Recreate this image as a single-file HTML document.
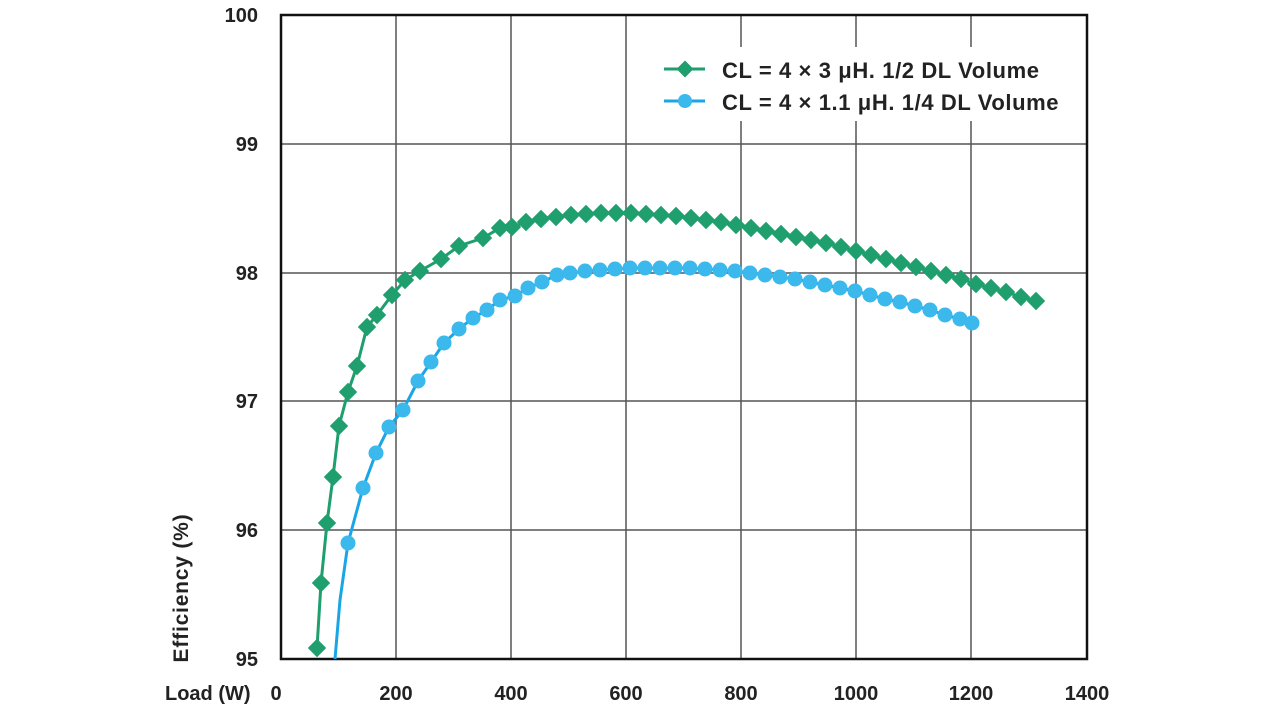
<!DOCTYPE html><html><head><style>body{margin:0;background:#fff}svg{display:block}text{font-family:"Liberation Sans",sans-serif;font-weight:bold;fill:#222}</style></head><body>
<svg width="1280" height="721" viewBox="0 0 1280 721">
<g stroke="#555" stroke-width="1.5">
<line x1="396" y1="15" x2="396" y2="659"/><line x1="511" y1="15" x2="511" y2="659"/><line x1="626" y1="15" x2="626" y2="659"/><line x1="741" y1="15" x2="741" y2="659"/><line x1="856" y1="15" x2="856" y2="659"/><line x1="971" y1="15" x2="971" y2="659"/>
<line x1="281" y1="144" x2="1087" y2="144"/><line x1="281" y1="273" x2="1087" y2="273"/><line x1="281" y1="401" x2="1087" y2="401"/><line x1="281" y1="530" x2="1087" y2="530"/>
</g>
<rect x="652" y="47" width="428" height="74" fill="#fff"/>
<rect x="281" y="15" width="806" height="644" fill="none" stroke="#111" stroke-width="2.5"/>
<g id="plot"></g>
<g font-size="20" text-anchor="end">
<text x="258" y="22">100</text><text x="258" y="151">99</text><text x="258" y="280">98</text><text x="258" y="408">97</text><text x="258" y="537">96</text><text x="258" y="666">95</text></g>
<g font-size="20" text-anchor="middle">
<text x="276" y="700">0</text><text x="396" y="700">200</text><text x="511" y="700">400</text><text x="626" y="700">600</text><text x="741" y="700">800</text><text x="856" y="700">1000</text><text x="971" y="700">1200</text><text x="1087" y="700">1400</text></g>
<text x="165" y="700" font-size="20">Load (W)</text>
<text transform="translate(188,588) rotate(-90)" font-size="21" letter-spacing="0.8" text-anchor="middle">Efficiency (%)</text>
<line x1="664" y1="69" x2="705" y2="69" stroke="#1f9e6e" stroke-width="3"/><rect x="679" y="63" width="12" height="12" transform="rotate(45 685 69)" fill="#1f9e6e"/>
<line x1="664" y1="101" x2="705" y2="101" stroke="#1aa6e6" stroke-width="3"/><circle cx="685" cy="101" r="7" fill="#3bb8ec"/>
<text x="722" y="78" font-size="22" letter-spacing="0.6">CL = 4 × 3 μH. 1/2 DL Volume</text>
<text x="722" y="110" font-size="22" letter-spacing="0.6">CL = 4 × 1.1 μH. 1/4 DL Volume</text>
</svg>
<script>
var g=[[317,648],[321,583],[327,523],[333,477],[339,426],[348,392],[357,366],[367,327],[377,315],[392,295],[405,280],[420,271],[441,259],[459,246],[483,238],[500,228],[512,227],[526,222],[541,219],[556,217],[571,215],[586,214],[601,213],[616,213],[631,213],[646,214],[661,215],[676,216],[691,218],[706,220],[721,222],[736,225],[751,228],[766,231],[781,234],[796,237],[811,240],[826,243],[841,247],[856,251],[871,255],[886,259],[901,263],[916,267],[931,271],[946,275],[961,279],[976,284],[991,288],[1006,292],[1021,297],[1036,301]];
var b=[[335,659],[340,600],[348,543],[363,488],[376,453],[389,427],[403,410],[418,381],[431,362],[444,343],[459,329],[473,318],[487,310],[500,300],[515,296],[528,288],[542,282],[557,275],[570,273],[585,271],[600,270],[615,269],[630,268],[645,268],[660,268],[675,268],[690,268],[705,269],[720,270],[735,271],[750,273],[765,275],[780,277],[795,279],[810,282],[825,285],[840,288],[855,291],[870,295],[885,299],[900,302],[915,306],[930,310],[945,315],[960,319],[972,323]];
var s='';
s+='<polyline fill="none" stroke="#1f9e6e" stroke-width="3" points="'+g.join(' ')+'"/>';
s+='<polyline fill="none" stroke="#1aa6e6" stroke-width="3" points="'+b.join(' ')+'"/>';
g.forEach(function(p){s+='<rect x="'+(p[0]-6.5)+'" y="'+(p[1]-6.5)+'" width="13" height="13" fill="#1f9e6e" transform="rotate(45 '+p[0]+' '+p[1]+')"/>';});
b.forEach(function(p,i){if(i>1)s+='<circle cx="'+p[0]+'" cy="'+p[1]+'" r="7.5" fill="#3bb8ec"/>';});
document.getElementById('plot').innerHTML=s;
</script>
</body></html>
